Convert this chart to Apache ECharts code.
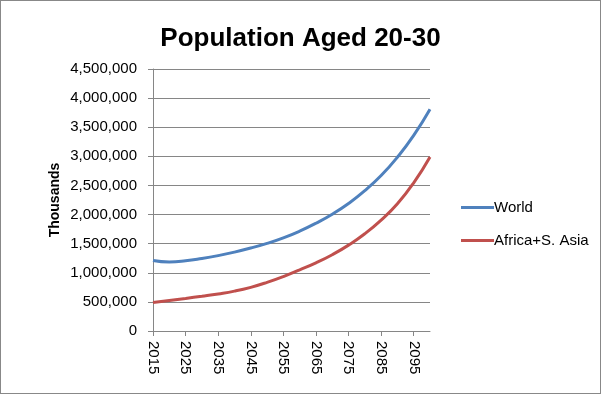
<!DOCTYPE html>
<html><head><meta charset="utf-8">
<script src="https://cdn.jsdelivr.net/npm/echarts@6/dist/echarts.min.js"></script>
<style>html,body{margin:0;padding:0;background:#fff}#c{width:601px;height:394px;box-sizing:border-box;border:1px solid #888}</style>
</head><body><div id="c"></div>
<script>
const years = ['2015','2020','2025','2030','2035','2040','2045','2050','2055','2060','2065','2070','2075','2080','2085','2090','2095','2100'];
const world = [1212000,1186000,1205000,1245000,1295000,1355000,1425000,1505000,1600000,1715000,1850000,2005000,2190000,2410000,2670000,2985000,3360000,3810000];
const africaSAsia = [490000,525000,560000,597000,637000,685000,750000,835000,935000,1050000,1170000,1310000,1475000,1670000,1905000,2185000,2545000,2990000];
const yTicks = [0,500000,1000000,1500000,2000000,2500000,3000000,3500000,4000000,4500000];
const fmt = v => String(v).replace(/\B(?=(\d{3})+(?!\d))/g, ',');
const font = 'Liberation Sans';
const chart = echarts.init(document.getElementById('c'));
chart.setOption({
  animation: false,
  title: {text: 'Population Aged 20-30', left: 'center', top: 20,
    textStyle: {fontFamily: font, fontWeight: 'bold', fontSize: 26, color: '#000'}},
  grid: {left: 152, right: 170, top: 68, bottom: 62, containLabel: false},
  legend: {orient: 'vertical', left: 455, top: 193, icon: 'rect', itemWidth: 33, itemHeight: 3, itemGap: 16,
    textStyle: {fontFamily: font, fontSize: 15, color: '#000', lineHeight: 17, padding: [0,0,0,-5]},
    data: ['World','Africa+S. Asia']},
  xAxis: {type: 'category', data: years, boundaryGap: false,
    axisLine: {lineStyle: {color: '#868686'}},
    axisTick: {show: true, interval: 1, length: 5, lineStyle: {color: '#868686'}},
    axisLabel: {interval: 1, rotate: -90, margin: 10, fontFamily: font, fontSize: 15, color: '#000'}},
  yAxis: {type: 'value', min: yTicks[0], max: yTicks[yTicks.length-1], interval: 500000,
    name: 'Thousands', nameLocation: 'middle', nameGap: 91, nameRotate: 90,
    nameTextStyle: {fontFamily: font, fontWeight: 'bold', fontSize: 14, color: '#000'},
    axisLine: {show: true, lineStyle: {color: '#868686'}},
    axisTick: {show: true, length: 5, lineStyle: {color: '#868686'}},
    splitLine: {lineStyle: {color: '#868686'}},
    axisLabel: {formatter: fmt, margin: 16, fontFamily: font, fontSize: 15, color: '#000'}},
  series: [
    {name: 'World', type: 'line', data: world, smooth: true, showSymbol: false,
      lineStyle: {color: '#4F81BD', width: 3}, itemStyle: {color: '#4F81BD'}},
    {name: 'Africa+S. Asia', type: 'line', data: africaSAsia, smooth: true, showSymbol: false,
      lineStyle: {color: '#C0504D', width: 3}, itemStyle: {color: '#C0504D'}}
  ]
});
</script></body></html>
